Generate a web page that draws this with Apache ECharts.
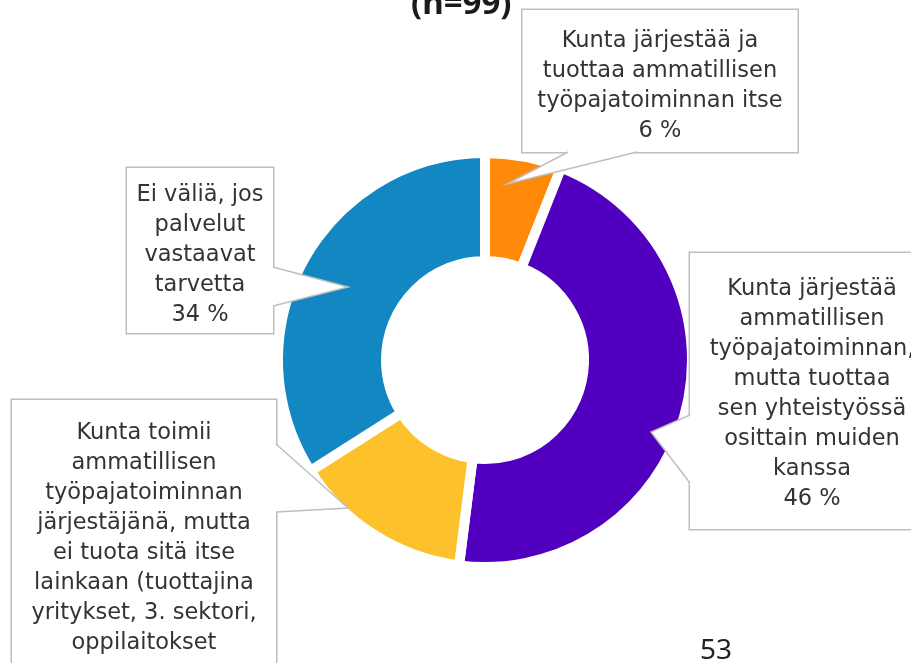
<!DOCTYPE html>
<html>
<head>
<meta charset="utf-8">
<script src="https://cdn.jsdelivr.net/npm/echarts@6/dist/echarts.min.js"></script>
<style>
  html, body { margin: 0; padding: 0; background: #fff; }
  #main { width: 911px; height: 663px; }
</style>
</head>
<body>
<div id="main"></div>
<script>
// data
var categories = [
    'Kunta järjestää ja\ntuottaa ammatillisen\ntyöpajatoiminnan itse',
    'Kunta järjestää\nammatillisen\ntyöpajatoiminnan,\nmutta tuottaa\nsen yhteistyössä\nosittain muiden\nkanssa',
    'Kunta toimii\nammatillisen\ntyöpajatoiminnan\njärjestäjänä, mutta\nei tuota sitä itse\nlainkaan (tuottajina\nyritykset, 3. sektori,\noppilaitokset',
    'Ei väliä, jos\npalvelut\nvastaavat\ntarvetta'
];
var values = [6, 46, 14, 34];
var colors = ['#FF8A0A', '#5000BE', '#FDC12B', '#1287C1'];
// the bottom callout is cut off by the page, its percentage is not visible
var showPercent = [true, true, false, true];

// callout boxes: centre x, top y, text width, padding [top, side, bottom]
var labelPos = [
    [660, 10, 251, [16, 12, 6]],
    [812, 253, 220, [21, 12, 15]],
    [144, 400, 240, [18, 12, 44]],
    [200, 168, 126, [12, 10, 3]]
];
// callout pointers: base, tip, base
var pointers = [
    [[568, 152], [507, 184], [637, 152]],
    [[690, 415], [651, 432], [690, 483]],
    [[276, 444], [348, 508], [276, 512]],
    [[273, 267], [348, 287], [273, 306]]
];

var chart = echarts.init(document.getElementById('main'));

var pieData = categories.map(function (name, i) {
    var pad = labelPos[i][3];
    return {
        name: name,
        value: values[i],
        itemStyle: { color: colors[i] },
        label: {
            formatter: showPercent[i] ? '{b}\n{c} %' : '{b}',
            width: labelPos[i][2],
            overflow: 'none',
            padding: [pad[0], pad[1], pad[2], pad[1]]
        }
    };
});

var wedges = pointers.map(function (pts) {
    return {
        type: 'polyline',
        z: 100,
        shape: { points: pts },
        style: { fill: '#fff', stroke: '#BFBFBF', lineWidth: 1.5 }
    };
});

chart.setOption({
    backgroundColor: '#fff',
    animation: false,
    title: [{
        text: '(n=99)',
        left: 411,
        top: -12,
        padding: 0,
        textStyle: { fontFamily: 'Noto Sans', fontWeight: 'bold', fontSize: 33, color: '#1a1a1a' }
    }, {
        text: '53',
        left: 695,
        top: 632,
        textStyle: { fontFamily: 'Noto Sans', fontWeight: 'normal', fontSize: 28, color: '#222' }
    }],
    graphic: wedges,
    series: [{
        type: 'pie',
        center: [485, 360],
        radius: [99, 207],
        startAngle: 90,
        clockwise: true,
        itemStyle: { borderColor: '#fff', borderWidth: 10 },
        label: {
            show: true,
            position: 'outside',
            fontFamily: 'DejaVu Sans',
            fontSize: 22.5,
            lineHeight: 30,
            color: '#333',
            align: 'center',
            backgroundColor: '#fff',
            borderColor: '#BFBFBF',
            borderWidth: 1.5
        },
        labelLine: { show: false },
        labelLayout: function (params) {
            var p = labelPos[params.dataIndex];
            return { x: p[0], y: p[1], align: 'center', verticalAlign: 'top' };
        },
        data: pieData
    }]
});
</script>
</body>
</html>
